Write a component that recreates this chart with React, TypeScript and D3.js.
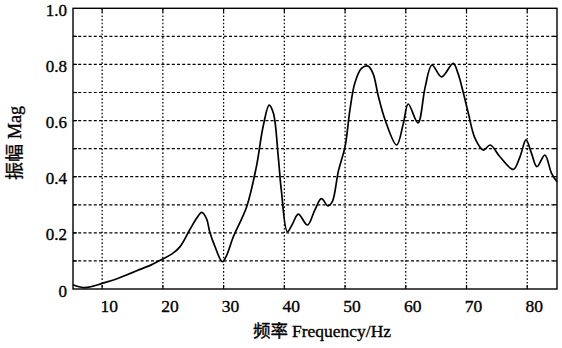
import React from "react";
import * as d3 from "d3";

const freq = [5.2, 6.9, 8.5, 10, 12, 14, 15.7, 18, 19.8, 21.5, 22.8, 24.4, 25.5, 26.4, 27.2, 27.7, 28.6, 29.8, 30.5, 31.6, 33.8, 35.4, 36.5, 37.5, 38.2, 39.0, 39.5, 40.5, 41.3, 42.3, 43.8, 45.0, 46.1, 47.2, 47.9, 48.9, 50.0, 50.8, 51.6, 52.7, 53.8, 54.6, 55.5, 56.6, 58.5, 59.6, 60.4, 62.0, 63.2, 64.3, 65.9, 67.8, 68.6, 69.5, 70.3, 71.4, 72.8, 73.9, 75.5, 77.7, 78.8, 79.8, 80.7, 81.6, 82.9, 84.0, 84.9];
const mag = [0.015, 0.005, 0.01, 0.02, 0.033, 0.05, 0.065, 0.085, 0.105, 0.125, 0.15, 0.21, 0.25, 0.273, 0.25, 0.205, 0.15, 0.097, 0.12, 0.186, 0.293, 0.436, 0.578, 0.655, 0.626, 0.471, 0.353, 0.204, 0.23, 0.267, 0.228, 0.28, 0.322, 0.296, 0.311, 0.42, 0.507, 0.638, 0.733, 0.786, 0.794, 0.768, 0.685, 0.602, 0.513, 0.59, 0.659, 0.592, 0.72, 0.798, 0.756, 0.804, 0.768, 0.697, 0.626, 0.537, 0.495, 0.513, 0.471, 0.426, 0.471, 0.531, 0.483, 0.436, 0.477, 0.412, 0.382];

const xTicks = [10, 20, 30, 40, 50, 60, 70, 80];
const yGrid = [0.1, 0.2, 0.3, 0.4, 0.5, 0.6, 0.7, 0.8, 0.9];
const yLabels = [0, 0.2, 0.4, 0.6, 0.8, 1.0];
const xTitle = "频率 Frequency/Hz";
const yTitle = "振幅 Mag";

export default function App() {
  const W = 562, H = 348;
  const L = 73, R = 557, T = 8.3, B = 289;
  const x = d3.scaleLinear().domain([5.2, 84.9]).range([L, R]);
  const y = d3.scaleLinear().domain([0, 1]).range([B, T]);
  const pts: [number, number][] = freq.map((f, i) => [f, mag[i]]);
  const line = d3.line<[number, number]>()
    .x(d => x(d[0]))
    .y(d => y(d[1]))
    .curve(d3.curveCatmullRom.alpha(0.5));
  const font = "'Liberation Serif', 'Times New Roman', serif";
  const cjk = "'Noto Sans CJK SC', sans-serif";
  const txt = { fill: "#000", stroke: "#000", strokeWidth: 0.35 };
  return (
    <svg width={W} height={H} style={{ position: "absolute", left: 0, top: 0, background: "#fff" }}>
      <rect x={0} y={0} width={W} height={H} fill="#fff" />
      {yGrid.map(v => (
        <line key={"h" + v} x1={L} x2={R} y1={y(v)} y2={y(v)} stroke="#000" strokeWidth={1.2} strokeDasharray="3,2.2" />
      ))}
      {xTicks.map(v => (
        <line key={"v" + v} x1={x(v)} x2={x(v)} y1={T} y2={B} stroke="#000" strokeWidth={1.2} strokeDasharray="1.6,2" />
      ))}
      {xTicks.map(v => (
        <g key={"t" + v}>
          <line x1={x(v)} x2={x(v)} y1={B} y2={B - 4} stroke="#000" strokeWidth={1.2} />
          <line x1={x(v)} x2={x(v)} y1={T} y2={T + 4} stroke="#000" strokeWidth={1.2} />
        </g>
      ))}
      {yGrid.map(v => (
        <g key={"ty" + v}>
          <line x1={L} x2={L + 4} y1={y(v)} y2={y(v)} stroke="#000" strokeWidth={1.2} />
          <line x1={R} x2={R - 4} y1={y(v)} y2={y(v)} stroke="#000" strokeWidth={1.2} />
        </g>
      ))}
      <path d={line(pts) || ""} fill="none" stroke="#000" strokeWidth={1.7} strokeLinejoin="round" />
      <rect x={L} y={T} width={R - L} height={B - T} fill="none" stroke="#000" strokeWidth={1.4} />
      {yLabels.map(v => (
        <text key={"yl" + v} x={67} y={y(v) + 7.5} textAnchor="end" fontFamily={font} fontSize={17} {...txt}>
          {v === 0 ? "0" : v.toFixed(1)}
        </text>
      ))}
      {xTicks.map(v => (
        <text key={"xl" + v} x={x(v) + 7} y={311.5} textAnchor="middle" fontFamily={font} fontSize={17.5} {...txt}>
          {v}
        </text>
      ))}
      <text x={322} y={336.5} textAnchor="middle" fontSize={17.5} {...txt}>
        <tspan fontFamily={cjk}>{xTitle.split(" ")[0]}</tspan>
        <tspan fontFamily={font} dx={4}>{xTitle.split(" ").slice(1).join(" ")}</tspan>
      </text>
      <text transform={`translate(21,143) rotate(-90)`} textAnchor="middle" fontSize={18} {...txt}>
        <tspan fontFamily={cjk}>{yTitle.split(" ")[0]}</tspan>
        <tspan fontFamily={font} dx={5}>{yTitle.split(" ").slice(1).join(" ")}</tspan>
      </text>
    </svg>
  );
}
